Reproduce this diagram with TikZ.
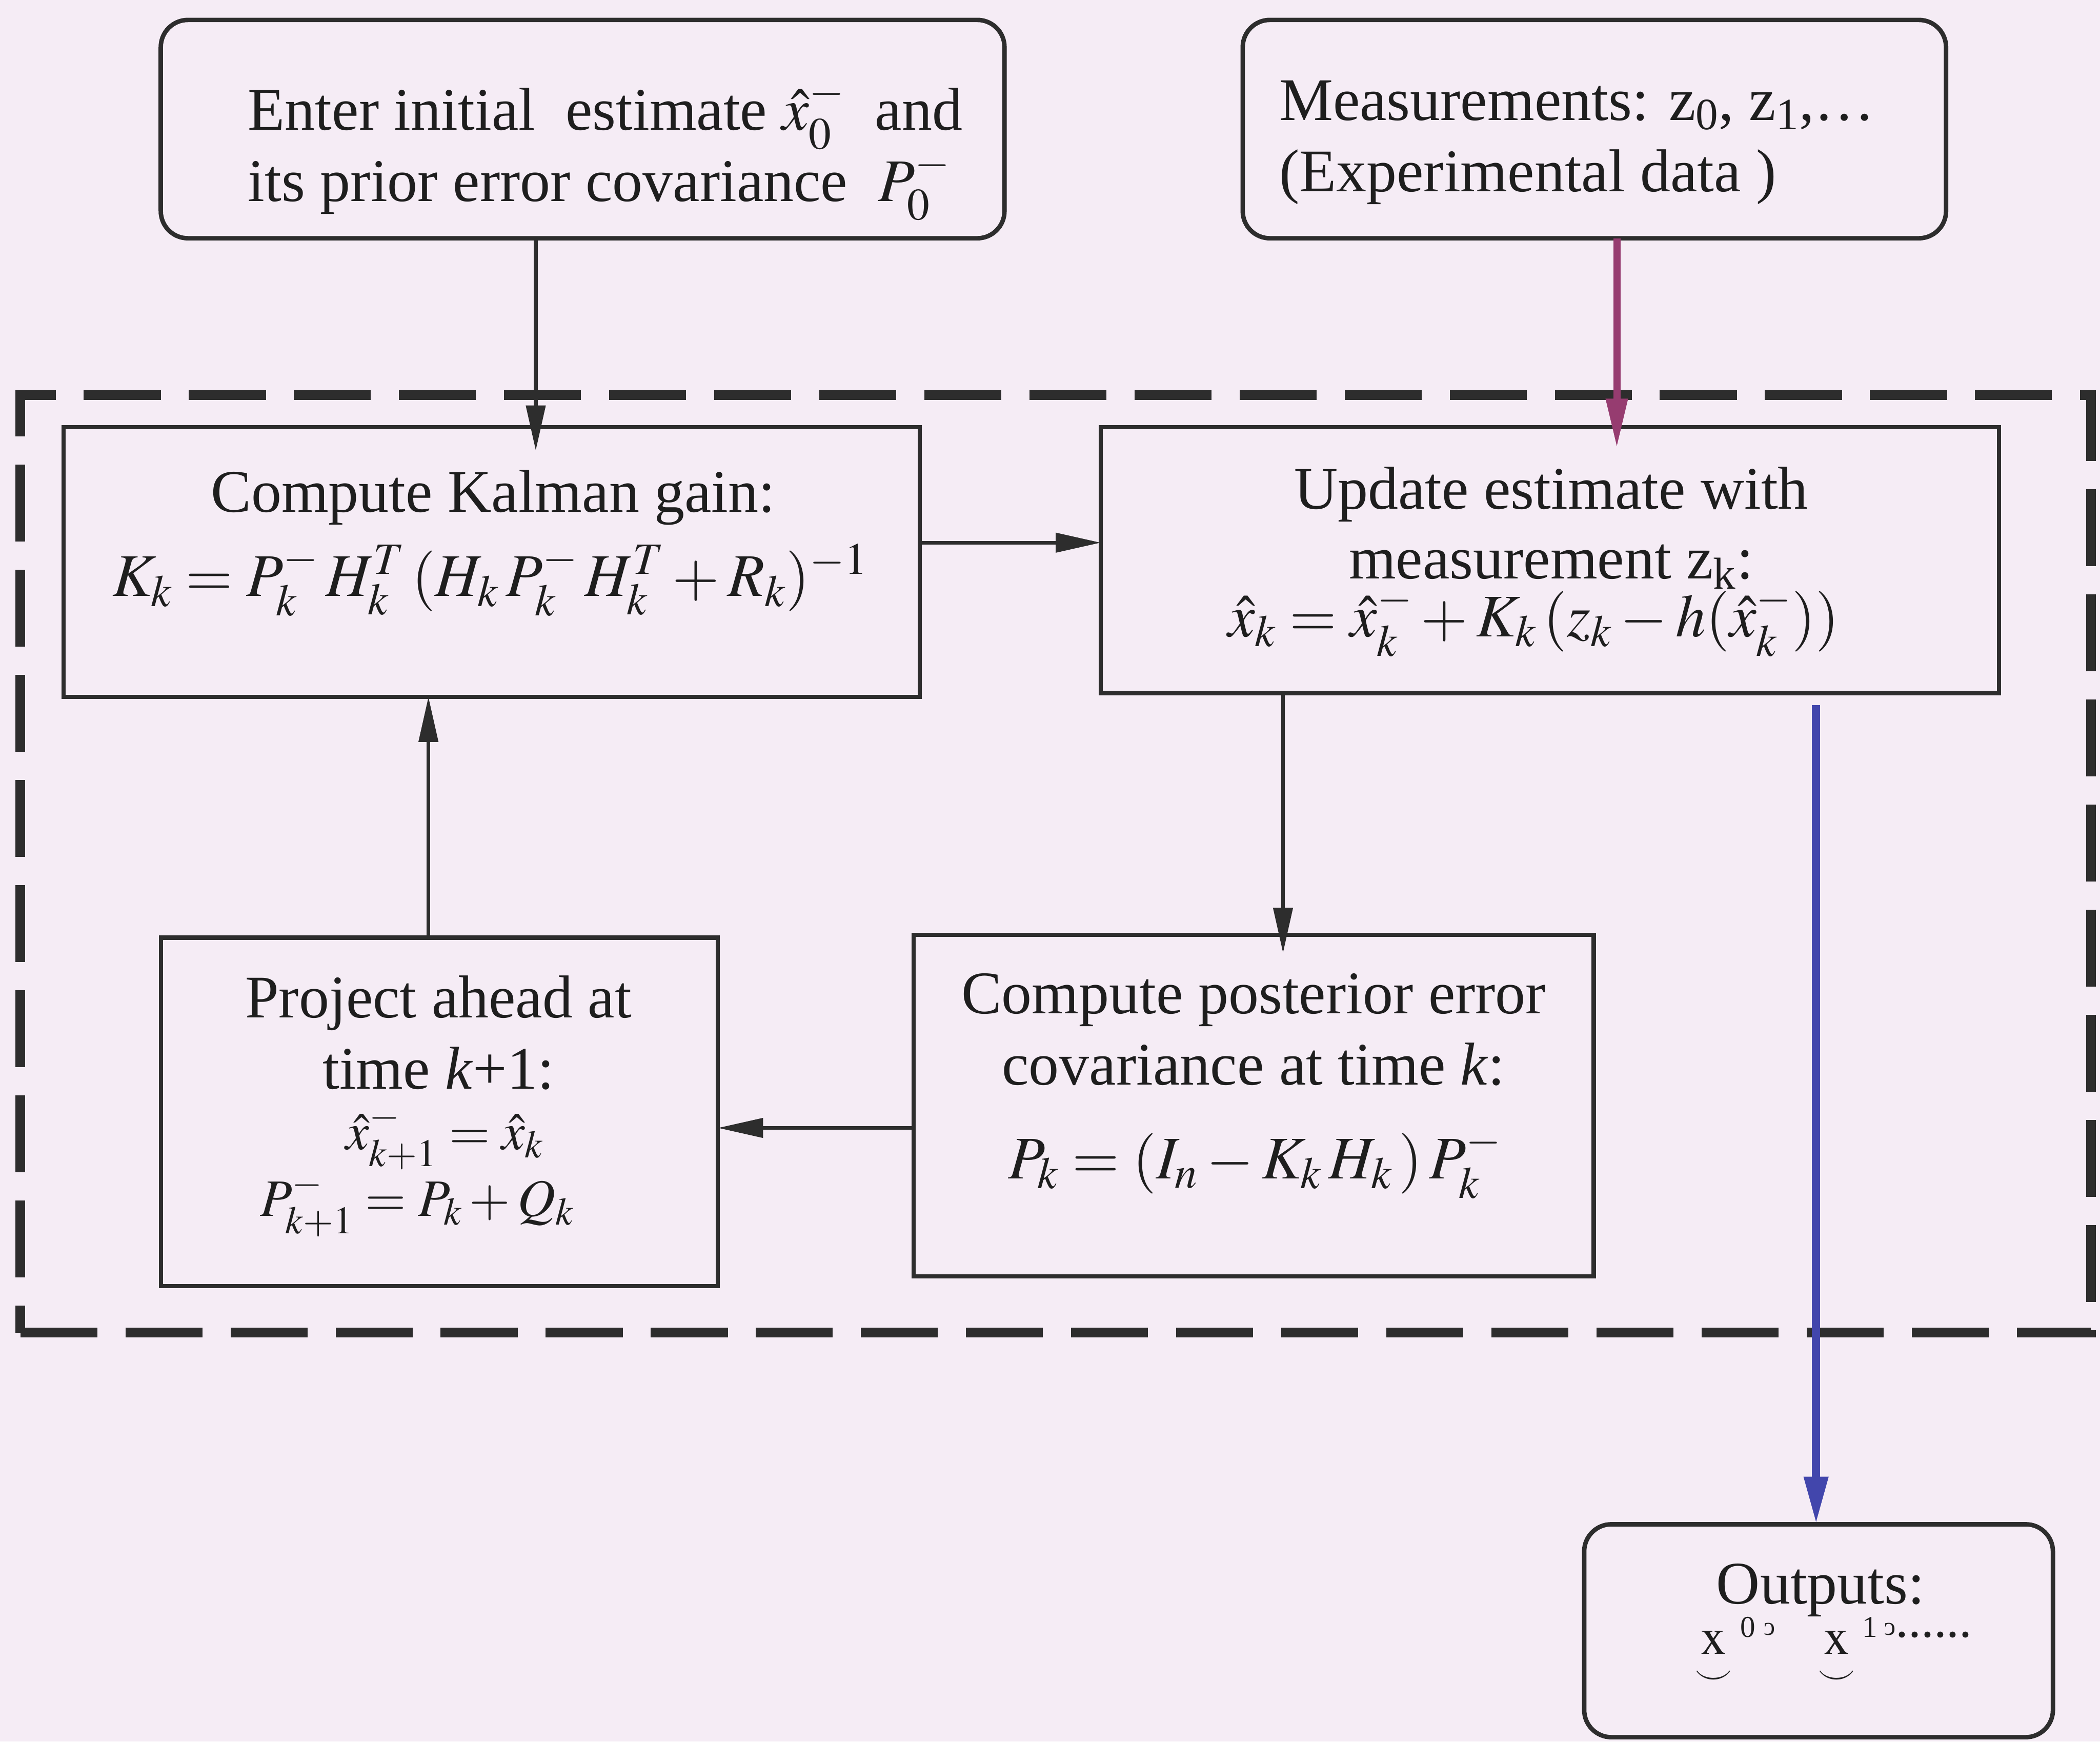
\documentclass[tikz,border=0pt]{standalone}
\usepackage{amsmath}
\usepackage{mathptmx}
\usepackage{fontspec}
\setmainfont{Liberation Serif}
\usepackage{graphicx}
\usetikzlibrary{arrows.meta,calc}

\definecolor{bgc}{RGB}{245,236,245}
\definecolor{linec}{RGB}{45,45,45}
\definecolor{textc}{RGB}{30,30,30}
\definecolor{measc}{RGB}{150,60,112}
\definecolor{outc}{RGB}{66,70,172}

\tikzset{
  rbox/.style={draw=linec, line width=2.8pt, rounded corners=0.6cm, inner sep=0pt, outer sep=0pt},
  sbox/.style={draw=linec, line width=2.6pt, inner sep=0pt, outer sep=0pt},
  loopframe/.style={draw=linec, line width=6pt, dash pattern=on 1.7cm off 0.62cm, inner sep=0pt, outer sep=0pt},
  txt/.style={font=\fontsize{38}{46}\selectfont, text=textc, inner sep=0pt, anchor=base},
  txtsmall/.style={txt, font=\fontsize{33}{40}\selectfont},
  arr/.style={draw=linec, line width=2.4pt, -{Triangle[length=1.0cm,width=0.42cm]}},
  arrm/.style={draw=measc, line width=4.5pt, -{Triangle[length=1.1cm,width=0.45cm]}},
  arrb/.style={draw=outc, line width=5pt, -{Triangle[length=1.05cm,width=0.5cm]}},
}

% x with a small arc set beneath it
\newcommand{\brevex}{\ensuremath{\underset{\smile}{\mathrm{x}}}}

\begin{document}
\begin{tikzpicture}
  \fill[bgc] (0,0) rectangle (46.37,-38.45);
  \useasboundingbox (0,0) rectangle (46.37,-38.45);

  % dashed loop frame
  \node[loopframe, minimum width=45.72cm, minimum height=20.70cm] (loop) at (23.31,-19.07) {};

  % input boxes
  \node[rbox, minimum width=18.63cm, minimum height=4.82cm] (init) at (12.865,-2.85) {};
  \node[rbox, minimum width=15.53cm, minimum height=4.82cm] (meas) at (35.205,-2.85) {};

  % processing boxes
  \node[sbox, minimum width=18.91cm, minimum height=5.95cm] (kal)  at (10.855,-12.405) {};
  \node[sbox, minimum width=19.83cm, minimum height=5.87cm] (upd)  at (34.225,-12.365) {};
  \node[sbox, minimum width=12.30cm, minimum height=7.69cm] (proj) at (9.70,-24.545) {};
  \node[sbox, minimum width=15.02cm, minimum height=7.54cm] (post) at (27.68,-24.41) {};

  % output box
  \node[rbox, minimum width=10.35cm, minimum height=4.70cm] (out) at (40.155,-36.00) {};

  % texts
  \node[txt, anchor=base west] (t1a) at (5.47,-2.87) {Enter initial\ \ estimate $\hat{x}_0^{-}$\ \ and};
  \node[txt, anchor=base west] (t1b) at (5.47,-4.44) {its prior error covariance\ \ $P_0^{-}$};

  \node[txt, anchor=base west] (t2a) at (28.24,-2.66) {Measurements: z\textsubscript{0}, z\textsubscript{1},\dots};
  \node[txt, anchor=base west] (t2b) at (28.24,-4.23) {(Experimental data )};

  \node[txt] (t3a) at (10.89,-11.30) {Compute Kalman gain:};
  \node[txt] (t3b) at (10.82,-13.16) {$K_k = P_k^{-}\,H_k^{T}\,(H_k\,P_k^{-}\,H_k^{T} + R_k)^{-1}$};

  \node[txt] (t4a) at (34.25,-11.24) {Update estimate with};
  \node[txt] (t4b) at (34.25,-12.77) {measurement z\textsubscript{k}:};
  \node[txt] (t4c) at (33.86,-14.05) {$\hat{x}_k = \hat{x}_k^{-} + K_k\,(z_k - h(\hat{x}_k^{-}))$};

  \node[txt] (t5a) at (27.68,-22.38) {Compute posterior error};
  \node[txt] (t5b) at (27.68,-23.95) {covariance at time \textit{k}:};
  \node[txt] (t5c) at (27.71,-26.02) {$P_k = (I_n - K_k\,H_k\,)\,P_k^{-}$};

  \node[txt] (t6a) at (9.68,-22.47) {Project ahead at};
  \node[txt] (t6b) at (9.68,-24.04) {time \textit{k}+1:};
  \node[txtsmall] (t6c) at (9.82,-25.37) {$\hat{x}_{k+1}^{-} = \hat{x}_k$};
  \node[txtsmall] (t6d) at (9.21,-26.85) {$P_{k+1}^{-} = P_k + Q_k$};

  \node[txt] (t7a) at (40.20,-35.40) {Outputs:};
  \node[txt, anchor=base west, font=\fontsize{32}{36}\selectfont] (t7b) at (37.41,-36.52)
    {\brevex\hspace{0.18cm}\raisebox{0.38cm}{\fontsize{19}{19}\selectfont 0}\hspace{0.18cm}%
     \raisebox{0.42cm}{\fontsize{16}{16}\selectfont\reflectbox{c}}\hspace{0.95cm}%
     \brevex\hspace{0.15cm}\raisebox{0.38cm}{\fontsize{19}{19}\selectfont 1}\hspace{0.15cm}%
     \raisebox{0.42cm}{\fontsize{16}{16}\selectfont\reflectbox{c}}\raisebox{0.38cm}{......}};

  % connector positions
  \coordinate (xa) at (11.83,0);
  \coordinate (xm) at (35.70,0);
  \coordinate (ya) at (0,-11.98);
  \coordinate (xb) at (28.33,0);
  \coordinate (yb) at (0,-24.90);
  \coordinate (xc) at (9.46,0);
  \coordinate (xd) at (40.10,0);

  % connectors
  \draw[arr]  (init.south -| xa) -- ($(kal.north -| xa)+(0,-0.52)$);
  \draw[arrm] (meas.south -| xm) -- ($(upd.north -| xm)+(0,-0.47)$);
  \draw[arr]  (kal.east |- ya) -- (upd.west |- ya);
  \draw[arr]  (upd.south -| xb) -- ($(post.north -| xb)+(0,-0.40)$);
  \draw[arr]  (post.west |- yb) -- (proj.east |- yb);
  \draw[arr]  (proj.north -| xc) -- (kal.south -| xc);
  \draw[arrb] ($(upd.south -| xd)+(0,-0.27)$) -- (out.north -| xd);
\end{tikzpicture}
\end{document}
